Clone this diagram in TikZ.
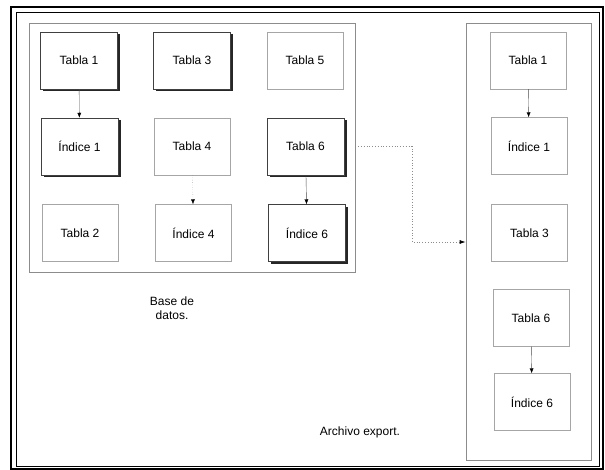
\documentclass[tikz,border=0pt]{standalone}
\usepackage{fontspec}
\setmainfont{Liberation Sans}
\usetikzlibrary{arrows.meta,positioning,calc,shadows}

\begin{document}
\begin{tikzpicture}[x=1pt,y=-1pt,
    tabla/.style={draw=black!75,fill=white,minimum width=77pt,minimum height=57pt,align=center,font=\fontsize{12}{14}\selectfont,
        drop shadow={shadow xshift=2.5pt,shadow yshift=-2.5pt,fill=black!85,opacity=1}},
    plano/.style={draw=black!35,fill=white,minimum width=76pt,minimum height=57pt,align=center,font=\fontsize{12}{14}\selectfont},
    grupo/.style={draw=black!45,line width=0.6pt},
    etiq/.style={align=center,font=\fontsize{12}{14}\selectfont},
    arr/.style={-{Latex[length=5pt,width=4pt,color=black]},draw=black!70},
    punt/.style={-{Latex[length=6pt,width=4pt,color=black]},draw=black!45,dotted,line width=0.8pt}
]
\useasboundingbox (0,0) rectangle (605,470);
% marco doble
\draw[line width=1.3pt] (11,7) rectangle (603,469);
\draw[line width=0.8pt] (16,12) rectangle (599,466);

% base de datos
\node[grupo,minimum width=326pt,minimum height=249pt] (db) at (192,147.5) {};
\node[tabla] (t1) at (79,60.5) {Tabla 1};
\node[tabla] (t3) at (192,60.5) {Tabla 3};
\node[plano] (t5) at (305,60.5) {Tabla 5};
\node[tabla] (i1) at (79.5,146.5) {Índice 1};
\node[plano] (t4) at (192,146.5) {Tabla 4};
\node[tabla] (t6) at (305.5,146.5) {Tabla 6};
\node[plano] (t2) at (80,233) {Tabla 2};
\node[plano] (i4) at (193.5,233) {Índice 4};
\node[tabla] (i6) at (307,233) {Índice 6};
\draw[arr] (t1)--(i1); \draw[arr,dotted,draw=black!50] (t4)--(i4); \draw[arr] (t6)--(i6);
\node[etiq] (bd) at (172,308.5) {Base de\\datos.};

% archivo export
\node[grupo,minimum width=125pt,minimum height=437pt] (ex) at (528.5,241.5) {};
\node[plano] (e1) at (528,60.5) {Tabla 1};
\node[plano] (e2) at (529,146) {Índice 1};
\node[plano] (e3) at (529.5,233) {Tabla 3};
\node[plano] (e4) at (531,318) {Tabla 6};
\node[plano] (e5) at (532,402) {Índice 6};
\draw[arr] (e1)--(e2); \draw[arr] (e4)--(e5);
\node[etiq] (ae) at (360,432) {Archivo export.};

\coordinate (giro) at (412,242);
\draw[punt] (t6 -| db.east) -| (giro) -- (giro -| ex.west);
\end{tikzpicture}
\end{document}
